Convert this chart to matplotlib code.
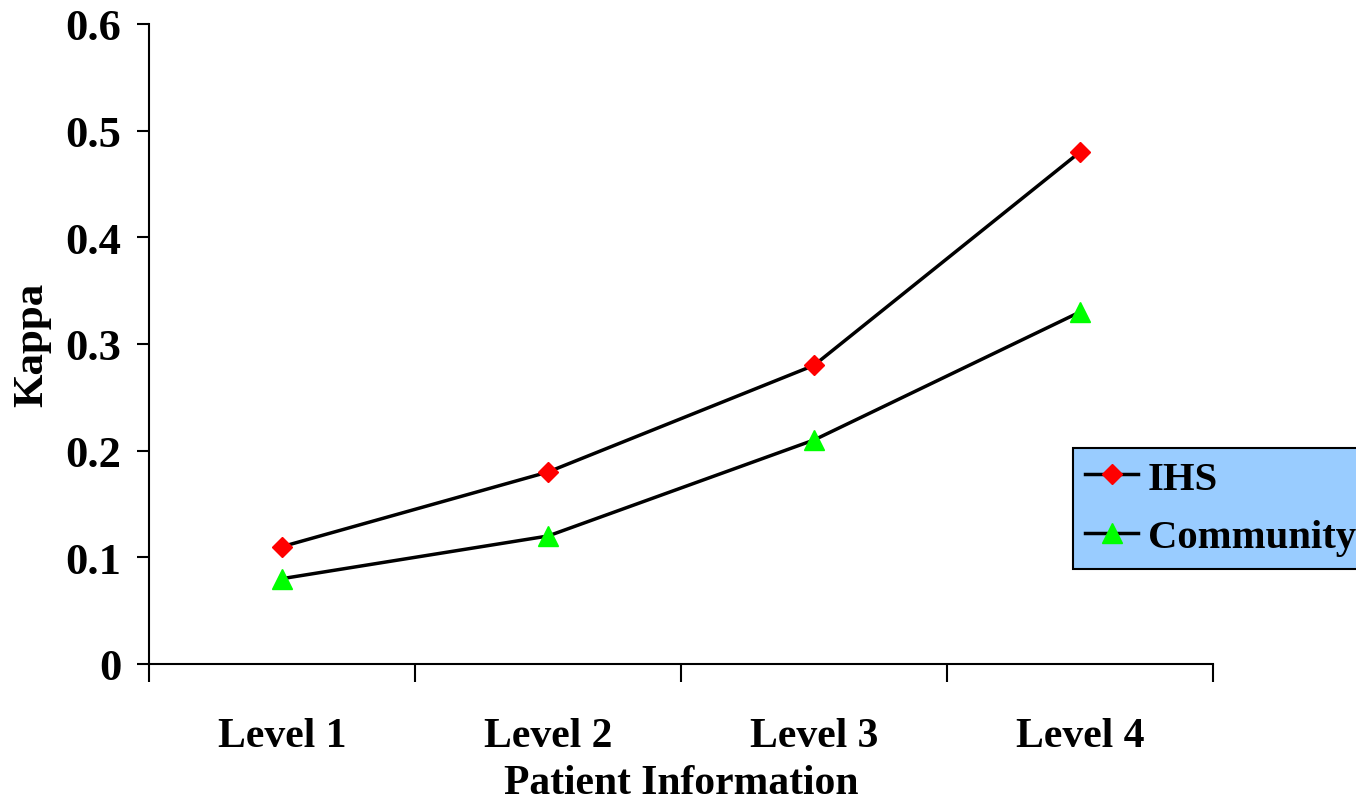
import numpy as np
import matplotlib
matplotlib.use("Agg")
import matplotlib.pyplot as plt

levels = ["Level 1", "Level 2", "Level 3", "Level 4"]
ihs = [0.11, 0.18, 0.28, 0.48]
community = [0.08, 0.12, 0.21, 0.33]

plt.rcParams["font.family"] = ["Liberation Serif", "DejaVu Serif"]
plt.rcParams["font.weight"] = "bold"

fig = plt.figure(figsize=(13.56, 8.03), dpi=100)
ax = fig.add_axes([149 / 1356, 138 / 803, 1064 / 1356, 640 / 803])

x = np.arange(len(levels)) + 0.5
ax.plot(x, ihs, color="black", lw=2.5, marker="D", ms=10,
        mfc="red", mec="red", label="IHS", zorder=3)
ax.plot(x, community, color="black", lw=2.5, marker="^", ms=14,
        mfc="#00FF00", mec="#00FF00", label="Community", zorder=3)

ax.set_xlim(0, len(levels))
ax.set_ylim(0, 0.6)
ax.set_yticks(np.arange(0, 0.61, 0.1))
ax.set_yticklabels(["0", "0.1", "0.2", "0.3", "0.4", "0.5", "0.6"])
# category labels sit between the boundary ticks
ax.set_xticks(np.arange(len(levels) + 1))
ax.set_xticklabels([])
ax.set_xticks(x, minor=True)
ax.set_xticklabels(levels, minor=True)
ax.tick_params(axis="x", which="minor", length=0, pad=38, labelsize=30)
ax.tick_params(axis="x", which="major", length=13, width=1.5, direction="out")
ax.tick_params(axis="y", length=9, width=1.5, direction="out", labelsize=32, pad=11)

for s in ["top", "right"]:
    ax.spines[s].set_visible(False)
for s in ["left", "bottom"]:
    ax.spines[s].set_linewidth(1.5)

ax.set_ylabel("Kappa", fontsize=31, fontweight="bold", labelpad=10)
ax.set_xlabel("Patient Information", fontsize=30, fontweight="bold", labelpad=7)

leg = fig.legend(loc="upper left", bbox_to_anchor=(1073 / 1356, 1 - 449 / 803),
                 borderaxespad=0, fancybox=False, framealpha=1,
                 facecolor="#99CCFF", edgecolor="black", fontsize=29.3,
                 handlelength=1.3, handletextpad=0.24, borderpad=0.3,
                 labelspacing=0.52)
leg.get_frame().set_linewidth(1.5)

fig.savefig("out.png", dpi=100)
